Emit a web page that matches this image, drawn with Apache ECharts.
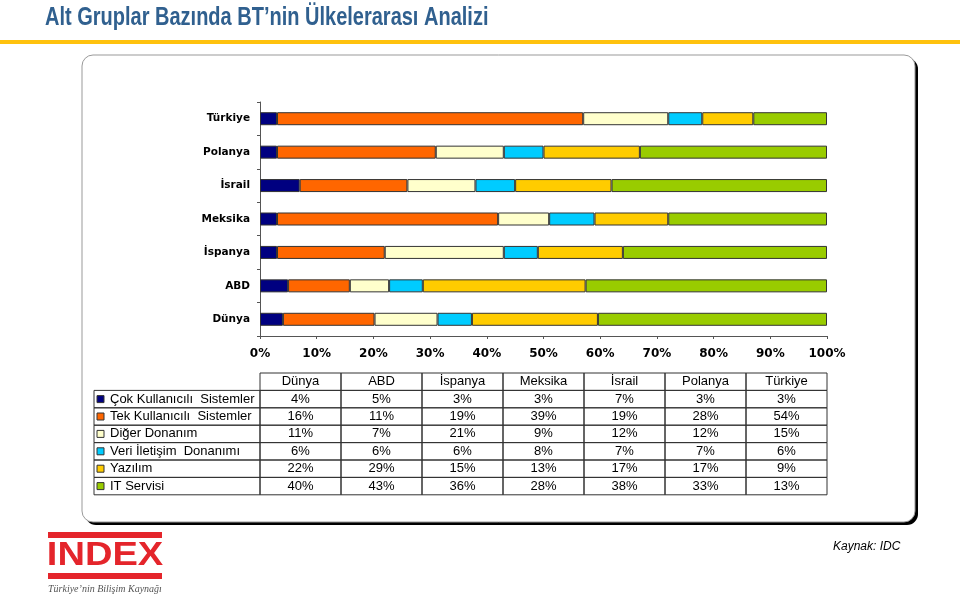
<!DOCTYPE html>
<html>
<head>
<meta charset="utf-8">
<script src="https://cdn.jsdelivr.net/npm/echarts@6/dist/echarts.min.js"></script>
<style>
html, body { margin: 0; padding: 0; background: #fff; }
#chart { width: 960px; height: 595px; }
</style>
</head>
<body>
<div id="chart"></div>
<script>
// categories, bottom to top on the chart (same order as table columns)
const countries = ['Dünya', 'ABD', 'İspanya', 'Meksika', 'İsrail', 'Polanya', 'Türkiye']
const groups = ['Çok Kullanıcılı  Sistemler', 'Tek Kullanıcılı  Sistemler', 'Diğer Donanım', 'Veri İletişim  Donanımı', 'Yazılım', 'IT Servisi']

// shares in % per group, one value per country
const cokKullanicili = [4, 5, 3, 3, 7, 3, 3]
const tekKullanicili = [16, 11, 19, 39, 19, 28, 54]
const digerDonanim = [11, 7, 21, 9, 12, 12, 15]
const veriIletisim = [6, 6, 6, 8, 7, 7, 6]
const yazilim = [22, 29, 15, 13, 17, 17, 9]
const itServisi = [40, 43, 36, 28, 38, 33, 13]

const values = [cokKullanicili, tekKullanicili, digerDonanim, veriIletisim, yazilim, itServisi]
const colors = ['#000080', '#FF6600', '#FFFFCC', '#00CCFF', '#FFCC00', '#99CC00']

// 100% stacked: each bar scaled to its own total
const totals = countries.map((c, i) => values.reduce((s, arr) => s + arr[i], 0))

const tableFont = '13px "Liberation Sans", Arial, sans-serif'
const tLeft = 260
const colW = 81
const labelLeft = 94
const tTop = 373
const rowH = 17.4

const graphics = []

// title + yellow rule
graphics.push({
  type: 'text', x: 45, y: 18, z: 5, scaleX: 0.8, originX: 0, originY: 0,
  style: { text: 'Alt Gruplar Bazında BT’nin Ülkelerarası Analizi', font: 'bold 25px "Liberation Sans", Arial, sans-serif', fill: '#30608F', verticalAlign: 'middle' }
})
graphics.push({ type: 'rect', shape: { x: 0, y: 40, width: 960, height: 4 }, style: { fill: '#FFC20E' }, z: 5 })

// rounded frame with shadow
graphics.push({ type: 'rect', shape: { x: 85, y: 58, width: 833, height: 467, r: 11 }, style: { fill: '#000' }, z: -10 })
graphics.push({ type: 'rect', shape: { x: 82, y: 55, width: 833, height: 467, r: 11 }, style: { fill: '#fff', stroke: '#999', lineWidth: 1 }, z: -9 })

// data table
countries.forEach((c, j) => {
  graphics.push({ type: 'rect', shape: { x: tLeft + colW * j, y: tTop, width: colW, height: rowH }, style: { fill: 'none', stroke: '#333', lineWidth: 1 }, z: 5 })
  graphics.push({ type: 'text', x: tLeft + colW * j + colW / 2, y: tTop + rowH / 2, z: 6, style: { text: c, font: tableFont, fill: '#000', align: 'center', verticalAlign: 'middle' } })
})
groups.forEach((g, r) => {
  const y = tTop + rowH * (r + 1)
  graphics.push({ type: 'rect', shape: { x: labelLeft, y: y, width: tLeft - labelLeft, height: rowH }, style: { fill: 'none', stroke: '#333', lineWidth: 1 }, z: 5 })
  graphics.push({ type: 'rect', shape: { x: 97, y: y + (rowH - 7) / 2, width: 7, height: 7 }, style: { fill: colors[r], stroke: '#333', lineWidth: 1 }, z: 6 })
  graphics.push({ type: 'text', x: 110, y: y + rowH / 2, z: 6, style: { text: g, font: tableFont, fill: '#000', verticalAlign: 'middle' } })
  countries.forEach((c, j) => {
    graphics.push({ type: 'rect', shape: { x: tLeft + colW * j, y: y, width: colW, height: rowH }, style: { fill: 'none', stroke: '#333', lineWidth: 1 }, z: 5 })
    graphics.push({ type: 'text', x: tLeft + colW * j + colW / 2, y: y + rowH / 2, z: 6, style: { text: values[r][j] + '%', font: tableFont, fill: '#000', align: 'center', verticalAlign: 'middle' } })
  })
})

// INDEX logo
graphics.push({ type: 'rect', shape: { x: 48, y: 532, width: 114, height: 6 }, style: { fill: '#E4252B' }, z: 5 })
graphics.push({ type: 'rect', shape: { x: 48, y: 573, width: 114, height: 6 }, style: { fill: '#E4252B' }, z: 5 })
graphics.push({
  type: 'text', x: 105, y: 556, z: 5, scaleX: 1.12, originX: 0, originY: 0,
  style: { text: 'INDEX', font: 'bold 34px "Liberation Sans", Arial, sans-serif', fill: '#E4252B', align: 'center', verticalAlign: 'middle' }
})
graphics.push({
  type: 'text', x: 48, y: 589, z: 5,
  style: { text: 'Türkiye’nin Bilişim Kaynağı', font: 'italic 10px "Liberation Serif", serif', fill: '#555', verticalAlign: 'middle' }
})

// source
graphics.push({
  type: 'text', x: 833, y: 547, z: 5,
  style: { text: 'Kaynak: IDC', font: 'italic 12px "Liberation Sans", Arial, sans-serif', fill: '#000', verticalAlign: 'middle' }
})

const option = {
  animation: false,
  grid: { left: 260, right: 133, top: 102, bottom: 259 },
  xAxis: {
    type: 'value',
    min: 0,
    max: 100,
    interval: 10,
    axisLine: { show: true, lineStyle: { color: '#555' } },
    axisTick: { show: true, length: 3, lineStyle: { color: '#555' } },
    splitLine: { show: false },
    axisLabel: { formatter: '{value}%', margin: 12, color: '#000', fontWeight: 'bold', fontSize: 12, fontFamily: '"DejaVu Sans", Verdana, sans-serif' }
  },
  yAxis: {
    type: 'category',
    data: countries,
    axisLine: { show: true, lineStyle: { color: '#555' } },
    axisTick: { show: true, length: 3, lineStyle: { color: '#555' } },
    axisLabel: { margin: 10, color: '#000', fontWeight: 'bold', fontSize: 10.5, fontFamily: '"DejaVu Sans", Verdana, sans-serif' }
  },
  series: groups.map((g, k) => ({
    name: g,
    type: 'bar',
    stack: 'total',
    barWidth: 13,
    data: values[k].map((v, i) => v / totals[i] * 100),
    itemStyle: { color: colors[k], borderColor: '#333', borderWidth: 1 }
  })),
  graphic: { elements: graphics }
}

const chart = echarts.init(document.getElementById('chart'))
chart.setOption(option)
</script>
</body>
</html>
